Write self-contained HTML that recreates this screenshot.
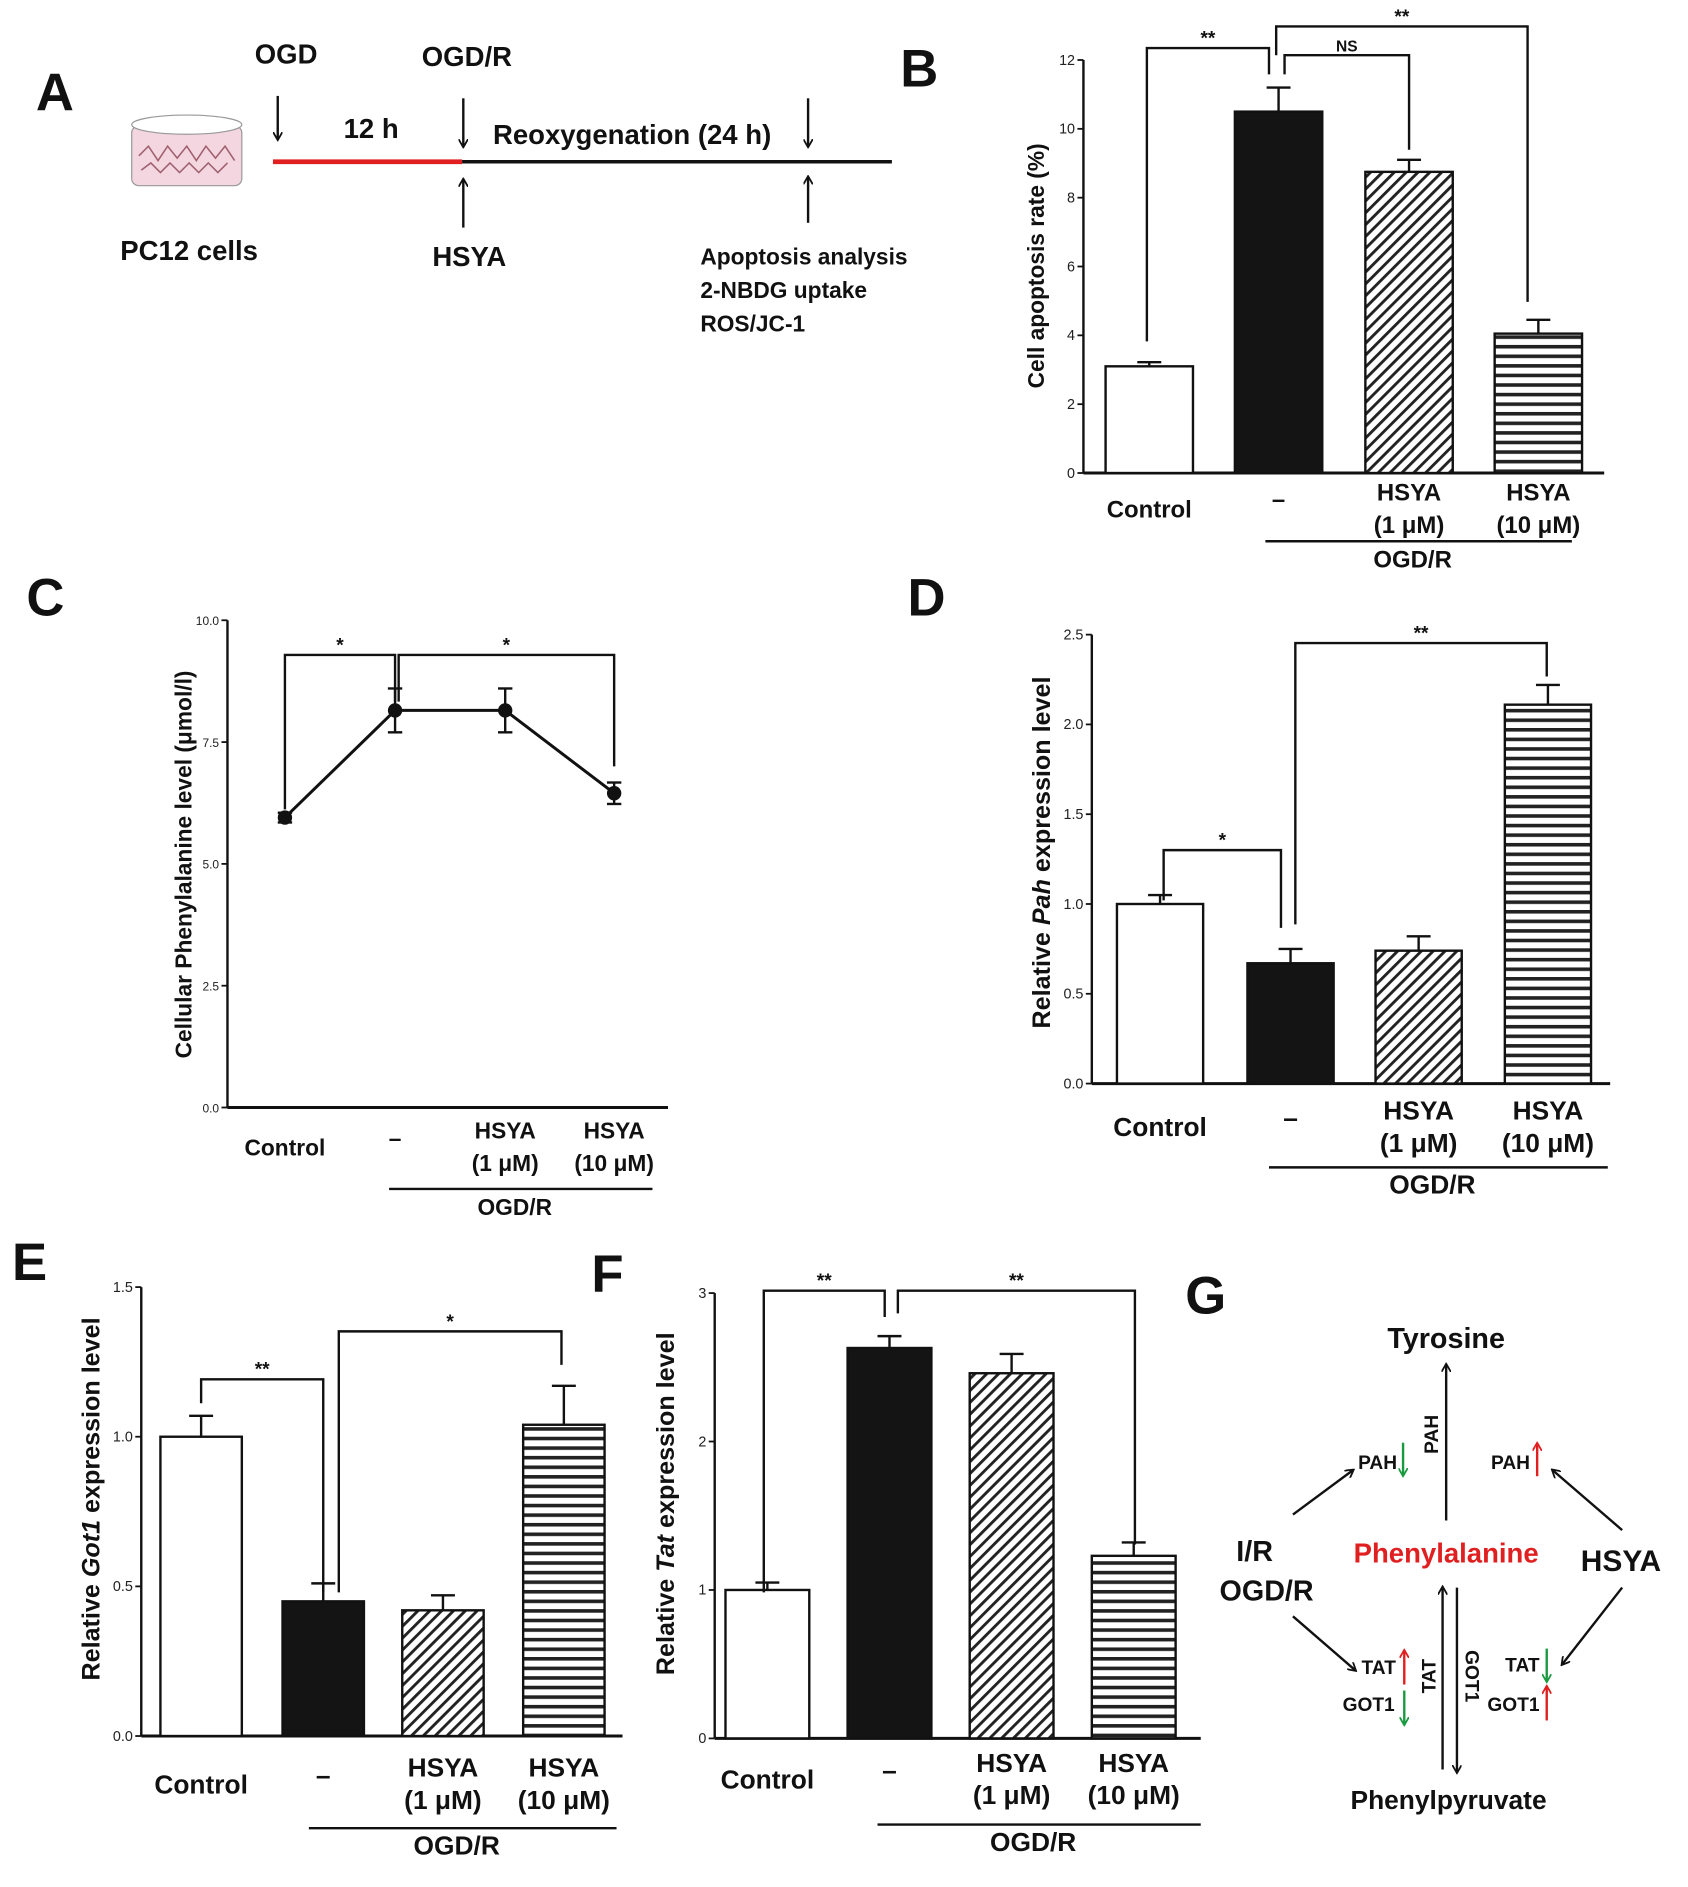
<!DOCTYPE html>
<html><head><meta charset="utf-8"><style>
html,body{margin:0;padding:0;background:#fff;}
svg{display:block;font-family:"Liberation Sans",sans-serif;}
</style></head><body>
<svg id="fig" width="1688" height="1887" viewBox="0 0 1410 1576">
<defs>
<pattern id="diag" width="7" height="7" patternUnits="userSpaceOnUse" patternTransform="rotate(45)"><rect width="7" height="7" fill="#fff"/><rect width="2.4" height="7" fill="#222"/></pattern>
<pattern id="horiz" width="8" height="8" patternUnits="userSpaceOnUse"><rect width="8" height="8" fill="#fff"/><rect width="8" height="3" fill="#222"/></pattern>
<marker id="ah" markerWidth="8" markerHeight="8" refX="6" refY="4" orient="auto" markerUnits="userSpaceOnUse"><path d="M0,0 L7,4 L0,8" fill="none" stroke="#111" stroke-width="1.5"/></marker>
<marker id="ahr" markerWidth="8" markerHeight="8" refX="6" refY="4" orient="auto" markerUnits="userSpaceOnUse"><path d="M0,0 L7,4 L0,8" fill="none" stroke="#e02020" stroke-width="1.5"/></marker>
<marker id="ahg" markerWidth="8" markerHeight="8" refX="6" refY="4" orient="auto" markerUnits="userSpaceOnUse"><path d="M0,0 L7,4 L0,8" fill="none" stroke="#1a9a40" stroke-width="1.5"/></marker>
</defs>
<g font-weight="bold" font-size="44" fill="#111">
<text x="30" y="92">A</text>
<text x="752" y="72">B</text>
<text x="22" y="514">C</text>
<text x="758" y="514">D</text>
<text x="10" y="1069">E</text>
<text x="494" y="1079">F</text>
<text x="990" y="1097">G</text>
</g>
<!-- Panel A -->
<g font-weight="bold" font-size="23" fill="#111" text-anchor="middle">
<g>
<rect x="110" y="105" width="92" height="50" rx="6" fill="#f3d6df" stroke="#999"/>
<ellipse cx="156" cy="104" rx="46" ry="8" fill="#fff" stroke="#999"/>
<path d="M116,130 l8,-8 l8,12 l8,-12 l8,10 l8,-10 l8,12 l8,-12 l8,10 l8,-10 l8,12 M118,142 l8,-6 l8,8 l8,-8 l8,8 l8,-8 l8,8 l8,-8 l8,8 l8,-8" fill="none" stroke="#a06070" stroke-width="1.3"/>
</g>
<text x="239" y="53">OGD</text>
<text x="390" y="55">OGD/R</text>
<text x="310" y="115">12 h</text>
<text x="528" y="120">Reoxygenation (24 h)</text>
<line x1="228" y1="135" x2="386" y2="135" stroke="#e02020" stroke-width="4"/>
<line x1="386" y1="135" x2="745" y2="135" stroke="#111" stroke-width="3"/>
<line x1="232" y1="80" x2="232" y2="116" stroke="#111" stroke-width="2" marker-end="url(#ah)"/>
<line x1="387" y1="82" x2="387" y2="122" stroke="#111" stroke-width="2" marker-end="url(#ah)"/>
<line x1="675" y1="82" x2="675" y2="122" stroke="#111" stroke-width="2" marker-end="url(#ah)"/>
<line x1="387" y1="190" x2="387" y2="150" stroke="#111" stroke-width="2" marker-end="url(#ah)"/>
<line x1="675" y1="186" x2="675" y2="148" stroke="#111" stroke-width="2" marker-end="url(#ah)"/>
<text x="158" y="217">PC12 cells</text>
<text x="392" y="222">HSYA</text>
<g font-size="19" text-anchor="start"><text x="585" y="221">Apoptosis analysis</text><text x="585" y="249">2-NBDG uptake</text><text x="585" y="277">ROS/JC-1</text></g>
</g>
<g id="charts"></g>
<!-- Panel G -->
<g font-weight="bold" fill="#111" text-anchor="middle">
<text x="1208" y="1126" font-size="24">Tyrosine</text>
<text x="1208" y="1305" font-size="23" fill="#e02020">Phenylalanine</text>
<text x="1210" y="1511" font-size="22">Phenylpyruvate</text>
<text x="1048" y="1304" font-size="24">I/R</text>
<text x="1058" y="1337" font-size="24">OGD/R</text>
<text x="1354" y="1312" font-size="25">HSYA</text>
<line x1="1208" y1="1270" x2="1208" y2="1140" stroke="#111" stroke-width="2" marker-end="url(#ah)"/>
<text transform="translate(1201,1198) rotate(-90)" font-size="16">PAH</text>
<line x1="1205" y1="1478" x2="1205" y2="1326" stroke="#111" stroke-width="2" marker-end="url(#ah)"/>
<line x1="1217" y1="1326" x2="1217" y2="1480" stroke="#111" stroke-width="2" marker-end="url(#ah)"/>
<text transform="translate(1199,1400) rotate(-90)" font-size="16">TAT</text>
<text transform="translate(1224,1400) rotate(90)" font-size="16">GOT1</text>
<line x1="1080" y1="1265" x2="1130" y2="1228" stroke="#111" stroke-width="2" marker-end="url(#ah)"/>
<line x1="1355" y1="1278" x2="1297" y2="1228" stroke="#111" stroke-width="2" marker-end="url(#ah)"/>
<line x1="1080" y1="1350" x2="1132" y2="1395" stroke="#111" stroke-width="2" marker-end="url(#ah)"/>
<line x1="1355" y1="1326" x2="1305" y2="1390" stroke="#111" stroke-width="2" marker-end="url(#ah)"/>
<g font-size="16" text-anchor="end">
<text x="1167" y="1227">PAH</text><text x="1278" y="1227">PAH</text>
<text x="1166" y="1398">TAT</text><text x="1165" y="1429">GOT1</text>
<text x="1286" y="1396">TAT</text><text x="1286" y="1429">GOT1</text>
</g>
<line x1="1172" y1="1205" x2="1172" y2="1232" stroke="#1a9a40" stroke-width="2" marker-end="url(#ahg)"/>
<line x1="1284" y1="1233" x2="1284" y2="1206" stroke="#e02020" stroke-width="2" marker-end="url(#ahr)"/>
<line x1="1173" y1="1407" x2="1173" y2="1379" stroke="#e02020" stroke-width="2" marker-end="url(#ahr)"/>
<line x1="1173" y1="1412" x2="1173" y2="1440" stroke="#1a9a40" stroke-width="2" marker-end="url(#ahg)"/>
<line x1="1292" y1="1377" x2="1292" y2="1404" stroke="#1a9a40" stroke-width="2" marker-end="url(#ahg)"/>
<line x1="1292" y1="1437" x2="1292" y2="1409" stroke="#e02020" stroke-width="2" marker-end="url(#ahr)"/>
</g>
</svg>
<script>
// Panel B data
const bValues = [3.1, 10.5, 8.75, 4.05];
const bErrors = [0.12, 0.7, 0.35, 0.4];
const bTicks = [0, 2, 4, 6, 8, 10, 12];
// Panel C data
const cValues = [5.95, 8.15, 8.15, 6.45];
const cErrors = [0.1, 0.45, 0.45, 0.22];
const cTicks = ["0.0", "2.5", "5.0", "7.5", "10.0"];
// Panel D data
const dValues = [1.0, 0.67, 0.74, 2.11];
const dErrors = [0.05, 0.08, 0.08, 0.11];
const dTicks = ["0.0", "0.5", "1.0", "1.5", "2.0", "2.5"];
// Panel E data
const eValues = [1.0, 0.45, 0.42, 1.04];
const eErrors = [0.07, 0.06, 0.05, 0.13];
const eTicks = ["0.0", "0.5", "1.0", "1.5"];
// Panel F data
const fValues = [1.0, 2.63, 2.46, 1.23];
const fErrors = [0.05, 0.08, 0.13, 0.09];
const fTicks = ["0", "1", "2", "3"];
const groups = ["Control", "OGD/R", "HSYA 1 μM", "HSYA 10 μM"];

const NS = "http://www.w3.org/2000/svg";
const root = document.getElementById("charts");
function mk(tag, attrs, parent, text) {
  const e = document.createElementNS(NS, tag);
  for (const k in attrs) e.setAttribute(k, attrs[k]);
  if (text !== undefined) e.textContent = text;
  (parent || root).appendChild(e);
  return e;
}
function line(g, x1, y1, x2, y2, w) { return mk("line", {x1, y1, x2, y2, stroke: "#111", "stroke-width": w || 2}, g); }

function chart(cfg) {
  const g = mk("g", {});
  
  
  const ymax = cfg.max;
  const y = v => cfg.y0 - (v / ymax) * (cfg.y0 - cfg.yTop);
  // axes
  line(g, cfg.ax, cfg.yTop, cfg.ax, cfg.y0, 2);
  line(g, cfg.ax, cfg.y0, cfg.axEnd, cfg.y0, 2.5);
  cfg.ticks.forEach(t => {
    const v = parseFloat(t);
    line(g, cfg.ax - 5, y(v), cfg.ax, y(v), 1.5);
    const tl = mk("text", {x: cfg.ax - 7, y: y(v) + 4, "font-size": cfg.tickSize || 12, "text-anchor": "end", fill: "#222"}, g, t);
    
    
  });
  // y title
  const yt = mk("text", {transform: `translate(${cfg.titleX},${cfg.titleY}) rotate(-90)`, "font-size": cfg.titleSize || 21, "font-weight": "bold", "text-anchor": "middle", fill: "#111"}, g);
  
  
  cfg.title.forEach(p => { const s = mk("tspan", p[1] ? {"font-style": "italic"} : {}, yt, p[0]); });
  const fills = ["#fff", "#141414", "url(#diag)", "url(#horiz)"];
  cfg.values.forEach((v, i) => {
    const cx = cfg.xs[i];
    if (cfg.line) {
      const e = cfg.errors[i];
      line(g, cx, y(v + e), cx, y(v - e), 2);
      line(g, cx - 6, y(v + e), cx + 6, y(v + e), 2);
      line(g, cx - 6, y(v - e), cx + 6, y(v - e), 2);
      if (i > 0) { const l = line(g, cfg.xs[i - 1], y(cfg.values[i - 1]), cx, y(v), 2.5);   }
      const pt = mk("circle", {cx, cy: y(v), r: 6, fill: "#111"}, g);
      
      
    } else {
      const w = cfg.bw;
      const e = cfg.errors[i];
      line(g, cx, y(v), cx, y(v + e), 2);
      line(g, cx - 10, y(v + e), cx + 10, y(v + e), 2);
      const r = mk("rect", {x: cx - w / 2, y: y(v), width: w, height: cfg.y0 - y(v), fill: fills[i], stroke: "#111", "stroke-width": 2}, g);
      
      
    }
  });
  // x labels
  const fs = cfg.labSize || 20;
  const lab = (x, yy, t) => { const e = mk("text", {x, y: yy, "font-size": fs, "font-weight": "bold", "text-anchor": "middle", fill: "#111"}, g, t);   };
  lab(cfg.xs[0], cfg.labY + 14, "Control");
  lab(cfg.xs[1], cfg.labY + 6, "–");
  lab(cfg.xs[2], cfg.labY, "HSYA"); lab(cfg.xs[2], cfg.labY + 27, "(1 μM)");
  lab(cfg.xs[3], cfg.labY, "HSYA"); lab(cfg.xs[3], cfg.labY + 27, "(10 μM)");
  const gl = line(g, cfg.ogd[0], cfg.ogd[2], cfg.ogd[1], cfg.ogd[2], 2);
   
  lab((cfg.ogd[0] + cfg.ogd[1]) / 2 - 5, cfg.ogd[2] + 22, "OGD/R");
  // brackets: [x1, x2, yBar, leg1Bottom, leg2Bottom, label]
  cfg.brackets.forEach(b => {
    const p = mk("path", {d: `M${b[0]},${b[3]} V${b[2]} H${b[1]} V${b[4]}`, fill: "none", stroke: "#111", "stroke-width": 2}, g);
    
    
    const t = mk("text", {x: (b[0] + b[1]) / 2, y: b[2] - 3, "font-size": b[5] === "NS" ? 13 : 16, "font-weight": "bold", "text-anchor": "middle", fill: "#111"}, g, b[5]);
    
    
  });
}

chart({name: "panel-b-apoptosis-chart", values: bValues, errors: bErrors, ticks: bTicks.map(String), max: 12,
  ax: 905, axEnd: 1340, y0: 395, yTop: 50, xs: [960, 1068, 1177, 1285], bw: 73,
  title: [["Cell apoptosis rate (%)"]], titleX: 872, titleY: 222, titleSize: 19,
  labY: 418, ogd: [1057, 1313, 452],
  brackets: [[958, 1060, 40, 285, 62, "**"], [1073, 1177, 46, 62, 125, "NS"], [1066, 1276, 22, 46, 252, "**"]]});
chart({name: "panel-c-phenylalanine-chart", line: true, values: cValues, errors: cErrors, ticks: cTicks, max: 10, tickSize: 10,
  ax: 190, axEnd: 558, y0: 925, yTop: 518, xs: [238, 330, 422, 513],
  title: [["Cellular Phenylalanine level (μmol/l)"]], titleX: 160, titleY: 722, titleSize: 19,
  labY: 951, labSize: 19, ogd: [325, 545, 993],
  brackets: [[238, 330, 547, 676, 586, "*"], [333, 513, 547, 586, 640, "*"]]});
chart({name: "panel-d-pah-chart", values: dValues, errors: dErrors, ticks: dTicks, max: 2.5,
  ax: 912, axEnd: 1345, y0: 905, yTop: 530, xs: [969, 1078, 1185, 1293], bw: 72,
  title: [["Relative "], ["Pah", true], [" expression level"]], titleX: 877, titleY: 712,
  labY: 935, labSize: 22, ogd: [1060, 1343, 975],
  brackets: [[972, 1070, 710, 752, 775, "*"], [1082, 1292, 537, 772, 565, "**"]]});
chart({name: "panel-e-got1-chart", values: eValues, errors: eErrors, ticks: eTicks, max: 1.5,
  ax: 118, axEnd: 520, y0: 1450, yTop: 1075, xs: [168, 270, 370, 471], bw: 68,
  title: [["Relative "], ["Got1", true], [" expression level"]], titleX: 83, titleY: 1252,
  labY: 1484, labSize: 22, ogd: [258, 515, 1527],
  brackets: [[168, 270, 1152, 1172, 1330, "**"], [283, 469, 1112, 1330, 1140, "*"]]});
chart({name: "panel-f-tat-chart", values: fValues, errors: fErrors, ticks: fTicks, max: 3,
  ax: 597, axEnd: 1003, y0: 1452, yTop: 1080, xs: [641, 743, 845, 947], bw: 70,
  title: [["Relative "], ["Tat", true], [" expression level"]], titleX: 563, titleY: 1256,
  labY: 1480, labSize: 22, ogd: [733, 1003, 1524],
  brackets: [[638, 739, 1078, 1330, 1100, "**"], [750, 948, 1078, 1097, 1290, "**"]]});
</script>
</body></html>
